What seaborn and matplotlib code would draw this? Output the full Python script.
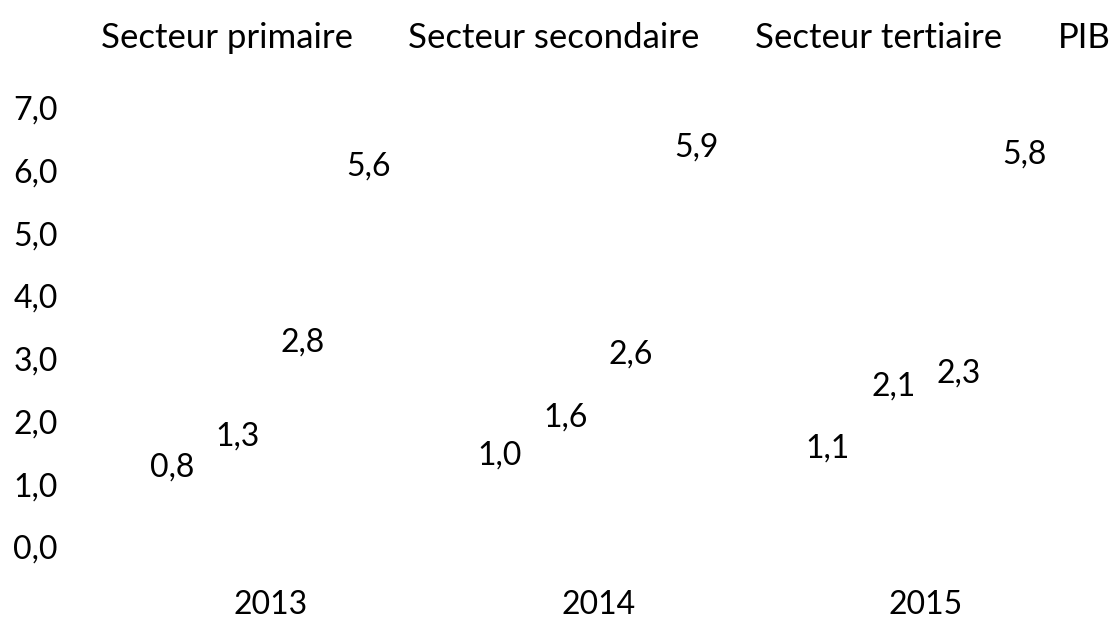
import matplotlib
matplotlib.use("Agg")
import matplotlib.pyplot as plt
import seaborn as sns
import pandas as pd
from matplotlib.patches import Patch

years = ["2013", "2014", "2015"]
series = ["Secteur primaire", "Secteur secondaire", "Secteur tertiaire", "PIB"]
primaire = [0.8, 1.0, 1.1]
secondaire = [1.3, 1.6, 2.1]
tertiaire = [2.8, 2.6, 2.3]
pib = [5.6, 5.9, 5.8]
yticks = [0, 1, 2, 3, 4, 5, 6, 7]

rows = []
for s, vals in zip(series, [primaire, secondaire, tertiaire, pib]):
    for y, v in zip(years, vals):
        rows.append({"year": y, "series": s, "value": v})
df = pd.DataFrame(rows)

sns.set_theme(style="white")
plt.rcParams["font.family"] = ["Lato", "DejaVu Sans"]
plt.rcParams["text.color"] = "black"
FS = 23

fig = plt.figure(figsize=(11.19, 6.2), dpi=100)
ax = fig.add_axes([0.095, 0.118, 0.879, 0.708])
sns.barplot(data=df, x="year", y="value", hue="series", order=years,
            hue_order=series, palette=["white"] * 4, ax=ax, width=0.8,
            legend=False)
for c in ax.containers:
    ax.bar_label(c, labels=[f"{v:.1f}".replace(".", ",") for v in c.datavalues],
                 padding=10, fontsize=FS, color="black")

ax.set_ylim(0, 7)
ax.set_xlim(-0.5, 2.5)
ax.set_yticks(yticks)
ax.set_yticklabels([f"{v:.1f}".replace(".", ",") for v in yticks], fontsize=FS)
ax.tick_params(axis="y", length=0, pad=35, labelcolor="black")
ax.tick_params(axis="x", length=0, pad=31, labelsize=FS, labelcolor="black")
ax.set_xlabel("")
ax.set_ylabel("")
for sp in ax.spines.values():
    sp.set_visible(False)

handles = [Patch(facecolor="white", edgecolor="none") for _ in series]
fig.legend(handles, series, loc="upper center", bbox_to_anchor=(0.528, 1.015),
           ncol=4, frameon=False, fontsize=25, handlelength=0.5,
           columnspacing=0.75, handletextpad=0.35, labelcolor="black")

fig.savefig("out.png", dpi=100)
